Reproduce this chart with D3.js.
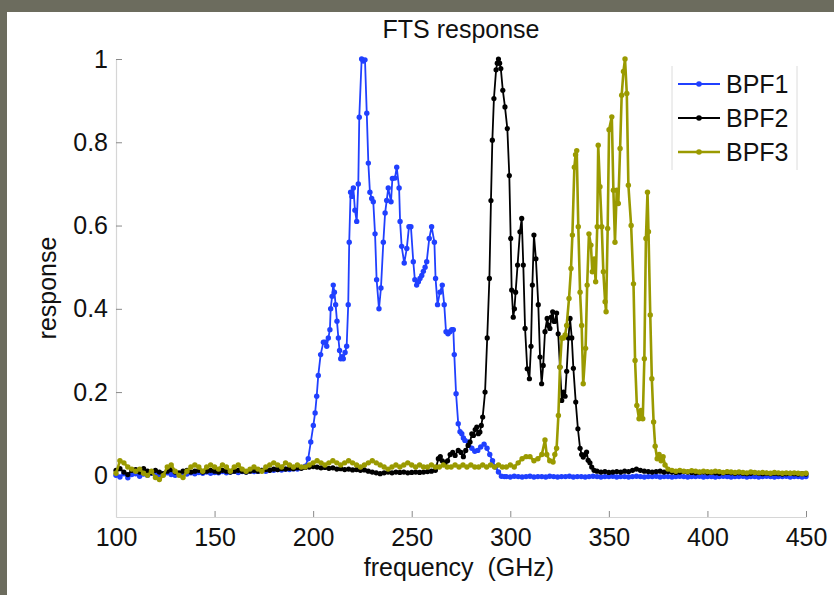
<!DOCTYPE html>
<html><head><meta charset="utf-8">
<script src="https://cdn.jsdelivr.net/npm/d3@7"></script>
<style>body{margin:0;background:#6c6c5e;} svg{display:block}</style>
</head><body><svg id="c" width="834" height="595"></svg>
<script>
const seriesNames = ["BPF1", "BPF2", "BPF3"];
const xTicks = [100, 150, 200, 250, 300, 350, 400, 450];
const yTicks = [0, 0.2, 0.4, 0.6, 0.8, 1];

const bpf1 = [
[100,0.000],[102,-0.004],[104,0.004],[106,-0.006],[108,0.002],[110,0.004],[112,-0.002],[114,0.003],[116,0.000],[118,0.005],
[120,0.002],[122,-0.003],[124,0.004],[126,0.006],[128,0.002],[130,0.000],[132,0.004],[134,0.006],[136,0.003],[138,0.006],
[140,0.004],[142,0.007],[144,0.005],[146,0.008],[148,0.005],[150,0.007],[152,0.006],[154,0.009],[156,0.006],[158,0.008],
[160,0.010],[162,0.007],[164,0.009],[166,0.008],[168,0.011],[170,0.009],[172,0.010],[174,0.012],[176,0.010],[178,0.013],
[180,0.012],[182,0.014],[184,0.013],[186,0.015],[188,0.014],[190,0.016],[192,0.015],[194,0.018],[196,0.022],
[197.5,0.04],[198.8,0.08],[200.1,0.12],[201,0.15],[201.8,0.19],[202.6,0.24],[203.8,0.29],[205.2,0.32],[206.1,0.32],[206.9,0.31],
[207.7,0.33],[208.5,0.35],[208.9,0.40],[209.6,0.43],[210.2,0.457],[210.8,0.44],[211.4,0.41],[212.1,0.37],[212.8,0.33],[213.4,0.30],
[214,0.28],[214.7,0.285],[215.3,0.28],[216.2,0.295],[217,0.31],[217.8,0.41],[218.3,0.56],[219,0.68],[219.7,0.67],[220.4,0.69],
[221.2,0.637],[222.1,0.61],[222.9,0.70],[223.4,0.86],[224.6,1.0],[225.4,0.995],[226.3,0.998],[227.2,0.87],[228,0.75],[228.8,0.68],
[229.7,0.665],[230.5,0.657],[231.4,0.58],[232.2,0.47],[233.4,0.40],[234.4,0.45],[235.6,0.56],[236.5,0.63],[237.3,0.66],[238.1,0.69],
[239.5,0.657],[240.2,0.713],[241.5,0.714],[242.4,0.74],[243.6,0.69],[244.1,0.61],[244.9,0.55],[246.2,0.51],[247.5,0.545],[248.6,0.597],
[249.6,0.597],[250.8,0.513],[251.6,0.47],[252.5,0.457],[253.4,0.465],[254.2,0.473],[255.1,0.48],[255.9,0.49],[256.8,0.50],[257.6,0.513],
[258.9,0.569],[260.1,0.597],[261.5,0.56],[262.1,0.473],[263.1,0.41],[264.3,0.44],[265.5,0.457],[266.5,0.41],[267.4,0.345],[268.4,0.34],
[269.4,0.345],[270.3,0.35],[271.1,0.35],[271.6,0.29],[272.5,0.196],[273.6,0.124],[274.5,0.105],[275.4,0.10],[276.2,0.09],[277,0.084],
[278.7,0.08],[280.5,0.065],[282,0.058],[283.5,0.06],[285,0.068],[286.7,0.075],[288.2,0.065],[289.6,0.05],[291,0.035],[292.5,0.02],
[294,0.008],[295.5,-0.002],[297,-0.003],
[298,-0.003],[300,-0.004],[302,-0.002],[304,-0.003],[306,-0.004],[308,-0.003],[310,-0.002],[312,-0.004],[314,-0.003],[316,-0.003],
[318,-0.004],[320,-0.002],[322,-0.003],[324,-0.004],[326,-0.003],[328,-0.003],[330,-0.002],[332,-0.004],[334,-0.003],[336,-0.003],
[338,-0.004],[340,-0.003],[342,-0.002],[344,-0.003],[346,-0.004],[348,-0.003],[350,-0.003],[352,-0.002],[354,-0.004],[356,-0.003],
[358,-0.003],[360,-0.004],[362,-0.003],[364,-0.002],[366,-0.003],[368,-0.004],[370,-0.003],[372,-0.003],[374,-0.002],[376,-0.004],
[378,-0.003],[380,-0.003],[382,-0.004],[384,-0.003],[386,-0.002],[388,-0.003],[390,-0.004],[392,-0.003],[394,-0.003],[396,-0.002],
[398,-0.004],[400,-0.003],[402,-0.003],[404,-0.004],[406,-0.003],[408,-0.002],[410,-0.003],[412,-0.004],[414,-0.003],[416,-0.003],
[418,-0.002],[420,-0.004],[422,-0.003],[424,-0.003],[426,-0.004],[428,-0.003],[430,-0.002],[432,-0.003],[434,-0.004],[436,-0.003],
[438,-0.003],[440,-0.002],[442,-0.004],[444,-0.003],[446,-0.003],[448,-0.004],[450,-0.003]
];

const bpf2 = [
[100,0.012],[102,0.016],[104,0.008],[106,0.002],[108,0.012],[110,0.014],[112,0.008],[114,0.016],[116,0.010],[118,0.006],
[120,0.012],[122,0.008],[124,0.004],[126,0.010],[128,0.014],[130,0.008],[132,0.006],[134,0.010],[136,0.012],[138,0.008],
[140,0.010],[142,0.012],[144,0.008],[146,0.010],[148,0.012],[150,0.010],[152,0.008],[154,0.012],[156,0.010],[158,0.008],
[160,0.010],[162,0.012],[164,0.010],[166,0.008],[168,0.010],[170,0.012],[172,0.010],[174,0.012],[176,0.014],[178,0.012],
[180,0.015],[182,0.014],[184,0.016],[186,0.015],[188,0.017],[190,0.016],[192,0.018],[194,0.017],[196,0.019],[198,0.020],
[200,0.021],[202,0.020],[204,0.018],[206,0.019],[208,0.017],[210,0.018],[212,0.015],[214,0.016],[216,0.014],[218,0.015],
[220,0.013],[222,0.014],[224,0.012],[226,0.013],[228,0.010],[230,0.008],[232,0.006],[234,0.004],[236,0.006],[238,0.008],
[240,0.006],[242,0.008],[244,0.007],[246,0.008],[248,0.006],[250,0.007],[252,0.008],[254,0.007],[256,0.008],[258,0.009],
[260,0.010],[262,0.012],[263.5,0.04],[264.5,0.045],[265.5,0.035],[266.9,0.03],[268.2,0.035],[269.5,0.05],[270.8,0.055],[272,0.048],
[273.6,0.06],[275,0.055],[276.2,0.045],[277.4,0.06],[278.6,0.072],[279.6,0.08],[280.5,0.10],[281.3,0.096],[282.2,0.11],[283,0.116],
[283.8,0.10],[284.6,0.104],[285.3,0.12],[286,0.14],[287.2,0.20],[288.3,0.33],[289.4,0.473],[290.2,0.66],[290.9,0.805],[291.7,0.905],
[292.8,0.974],[293.4,0.99],[294,1.0],[294.6,0.99],[295.2,0.977],[296.2,0.925],[297.3,0.885],[298.5,0.833],[299.5,0.72],[300.2,0.569],
[300.7,0.445],[301.5,0.38],[302.1,0.40],[302.7,0.44],[303.7,0.505],[304.9,0.585],[305.8,0.617],[306.6,0.505],[307.5,0.353],[308.6,0.256],
[309.7,0.232],[310.5,0.31],[311.2,0.457],[312,0.577],[313,0.52],[314.2,0.41],[315.1,0.284],[315.9,0.22],[316.7,0.264],[317.6,0.345],
[318.7,0.377],[319.4,0.36],[320.1,0.353],[320.8,0.38],[321.5,0.393],[322.1,0.37],[322.7,0.37],[323.5,0.39],[324.3,0.34],[325.2,0.26],
[326.1,0.18],[327,0.2],[327.8,0.19],[328.6,0.25],[329.5,0.33],[330.3,0.377],[331.2,0.33],[332,0.257],[333.2,0.176],[334.3,0.112],
[335.4,0.065],[336.2,0.05],[337,0.044],[337.9,0.05],[338.7,0.056],[339.5,0.036],[340.4,0.03],[341.3,0.02],[342.5,0.012],
[344,0.010],[346,0.008],[348,0.009],[350,0.007],[352,0.008],[354,0.009],[356,0.008],[358,0.010],[360,0.009],[362,0.012],
[364,0.015],[366,0.012],[368,0.010],[370,0.009],[372,0.008],[374,0.009],[376,0.010],[378,0.008],[380,0.009],[382,0.008],
[384,0.007],[386,0.008],[388,0.009],[390,0.008],[392,0.007],[394,0.006],[396,0.007],[398,0.008],[400,0.006],[402,0.007],
[404,0.006],[406,0.005],[408,0.006],[410,0.007],[412,0.006],[414,0.005],[416,0.006],[418,0.005],[420,0.004],[422,0.005],
[424,0.006],[426,0.005],[428,0.004],[430,0.005],[432,0.004],[434,0.005],[436,0.004],[438,0.003],[440,0.004],[442,0.005],
[444,0.004],[446,0.003],[448,0.004],[450,0.003]
];

const bpf3 = [
[100,0.005],[102,0.035],[104,0.030],[106,0.020],[108,0.015],[110,0.010],[112,0.015],[114,0.005],[116,0.000],[118,0.010],
[120,-0.005],[122,-0.010],[124,0.000],[126,0.020],[128,0.025],[130,0.010],[132,0.000],[134,-0.005],[136,0.010],[138,0.020],
[140,0.025],[142,0.020],[144,0.010],[146,0.020],[148,0.025],[150,0.020],[152,0.015],[154,0.025],[156,0.020],[158,0.010],
[160,0.020],[162,0.025],[164,0.015],[166,0.010],[168,0.015],[170,0.020],[172,0.015],[174,0.010],[176,0.020],[178,0.025],
[180,0.030],[182,0.025],[184,0.020],[186,0.030],[188,0.025],[190,0.020],[192,0.025],[194,0.020],[196,0.020],[198,0.025],
[200,0.030],[202,0.035],[204,0.030],[206,0.025],[208,0.030],[210,0.035],[212,0.030],[214,0.025],[216,0.030],[218,0.035],
[220,0.030],[222,0.025],[224,0.020],[226,0.025],[228,0.030],[230,0.035],[232,0.030],[234,0.025],[236,0.020],[238,0.015],
[240,0.020],[242,0.025],[244,0.020],[246,0.025],[248,0.030],[250,0.025],[252,0.020],[254,0.025],[256,0.020],[258,0.020],
[260,0.025],[262,0.020],[264,0.020],[266,0.025],[268,0.020],[270,0.020],[272,0.025],[274,0.020],[276,0.025],[278,0.020],
[280,0.025],[282,0.020],[284,0.020],[286,0.025],[288,0.020],[290,0.025],[292,0.020],[294,0.025],[296,0.020],[298,0.020],
[300,0.025],[302,0.020],[304,0.030],[306,0.040],[308,0.045],[310,0.045],[312,0.035],[314,0.040],[316,0.050],[317.6,0.085],
[318.5,0.050],[320,0.035],[321.7,0.032],[322.6,0.050],[323.5,0.065],[324.4,0.144],[325.2,0.26],[326.1,0.33],[327,0.33],[327.8,0.337],
[328.6,0.36],[329.8,0.425],[330.8,0.497],[331.5,0.577],[332.5,0.74],[333.1,0.77],[333.7,0.78],[334.5,0.597],[335.4,0.44],[336.2,0.36],
[337,0.22],[338.2,0.305],[339,0.457],[339.9,0.58],[340.9,0.553],[341.6,0.489],[342.6,0.52],[343.3,0.465],[344.1,0.597],[344.6,0.793],
[345.5,0.693],[346.4,0.597],[347.2,0.489],[348.1,0.417],[348.6,0.393],[349.4,0.593],[350.1,0.83],[351.5,0.861],[352.3,0.685],[353.1,0.56],
[354,0.685],[354.8,0.653],[355.7,0.785],[356.5,0.913],[357.4,0.97],[358.2,1.0],[359.1,0.917],[359.9,0.697],[361.3,0.60],[362.5,0.46],
[363.3,0.276],[364.2,0.168],[365.3,0.136],[366.3,0.156],[367.2,0.136],[368,0.28],[368.8,0.569],[369.6,0.68],[370.1,0.585],[371,0.385],
[371.8,0.232],[372.7,0.128],[373.5,0.07],[374.5,0.04],[375.5,0.05],[376.5,0.035],[377.5,0.045],[378.5,0.025],[380,0.015],
[382,0.012],[384,0.010],[386,0.012],[388,0.010],[390,0.009],[392,0.011],[394,0.010],[396,0.008],[398,0.010],[400,0.009],
[402,0.008],[404,0.010],[406,0.009],[408,0.007],[410,0.009],[412,0.008],[414,0.007],[416,0.008],[418,0.007],[420,0.006],
[422,0.008],[424,0.007],[426,0.006],[428,0.007],[430,0.006],[432,0.005],[434,0.007],[436,0.006],[438,0.005],[440,0.006],
[442,0.005],[444,0.006],[446,0.005],[448,0.004],[450,0.005]
];

const seriesData = [bpf1, bpf2, bpf3];
const seriesColors = ["#2040ff", "#000000", "#9a9a00"];
const lineWidths = [1.8, 1.8, 2.6];
const markerR = [2.7, 2.6, 2.7];

const W = 834, H = 595;
const FONT = "'Liberation Sans', Arial, Helvetica, sans-serif";
const svg = d3.select("#c");
svg.append("rect").attr("width", W).attr("height", H).attr("fill", "#6c6c5e");
svg.append("rect").attr("x", 7).attr("y", 12).attr("width", W - 7).attr("height", H - 12).attr("fill", "#ffffff");

const x = d3.scaleLinear().domain([100, 450]).range([116, 806]);
const y = d3.scaleLinear().domain([-0.1, 1]).range([517, 59]);

const gx = svg.append("g").attr("transform", `translate(0,${y(-0.1)})`)
  .call(d3.axisBottom(x).tickValues(xTicks).tickSize(-6).tickSizeOuter(0).tickPadding(11).tickFormat(d => String(d)));
const gy = svg.append("g").attr("transform", `translate(${x(100)},0)`)
  .call(d3.axisLeft(y).tickValues(yTicks).tickSize(-6).tickSizeOuter(0).tickPadding(8).tickFormat(d => String(d)));
[gx, gy].forEach(g => {
  g.select(".domain").attr("stroke", "#d6d6d6").attr("stroke-width", 1.2);
  g.selectAll(".tick line").attr("stroke", "#8a8a8a");
  g.selectAll(".tick text").attr("fill", "#111").style("font-family", FONT).style("font-size", "25px");
});

const line = d3.line().x(d => x(d[0])).y(d => y(d[1]));
seriesData.forEach((data, i) => {
  const g = svg.append("g");
  g.append("path").datum(data).attr("d", line).attr("fill", "none")
    .attr("stroke", seriesColors[i]).attr("stroke-width", lineWidths[i]).attr("stroke-linejoin", "round");
  g.selectAll("circle").data(data).join("circle")
    .attr("cx", d => x(d[0])).attr("cy", d => y(d[1])).attr("r", markerR[i]).attr("fill", seriesColors[i]);
});

svg.append("text").attr("x", 461).attr("y", 38).attr("text-anchor", "middle")
  .style("font-family", FONT).style("font-size", "25px").attr("fill", "#111").text("FTS response");
svg.append("text").attr("x", 459).attr("y", 576).attr("text-anchor", "middle")
  .style("font-family", FONT).style("font-size", "25px").style("white-space", "pre").attr("fill", "#111").text("frequency  (GHz)");
svg.append("text").attr("transform", "translate(56,288) rotate(-90)").attr("text-anchor", "middle")
  .style("font-family", FONT).style("font-size", "25px").attr("fill", "#111").text("response");

// legend
const lg = svg.append("g");
lg.append("line").attr("x1", 672).attr("x2", 672).attr("y1", 66).attr("y2", 170).attr("stroke", "#dcdcdc");
lg.append("line").attr("x1", 797).attr("x2", 797).attr("y1", 66).attr("y2", 170).attr("stroke", "#dcdcdc");
const legY = d3.scalePoint().domain(seriesNames).range([84, 152]);
seriesNames.forEach((name, i) => {
  const yy = legY(name);
  lg.append("line").attr("x1", 678).attr("x2", 720).attr("y1", yy).attr("y2", yy)
    .attr("stroke", seriesColors[i]).attr("stroke-width", lineWidths[i]);
  lg.append("circle").attr("cx", 699).attr("cy", yy).attr("r", 2.8).attr("fill", seriesColors[i]);
  lg.append("text").attr("x", 726).attr("y", yy + 9).style("font-family", FONT).style("font-size", "25px")
    .attr("fill", "#111").text(name);
});
</script></body></html>
